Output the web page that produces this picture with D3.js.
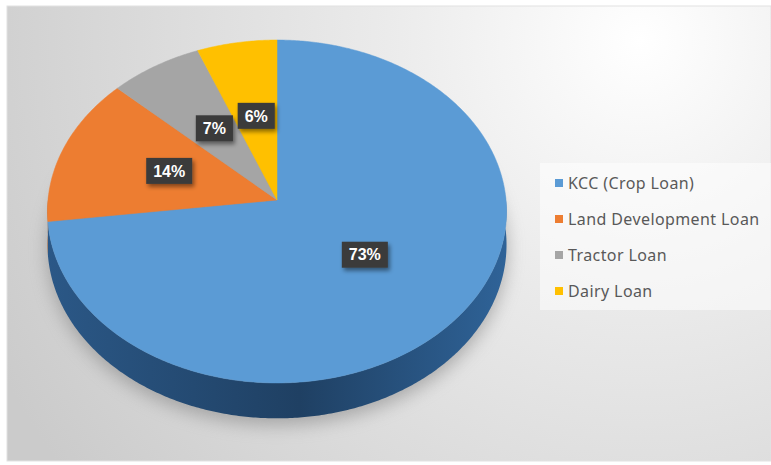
<!DOCTYPE html>
<meta charset="utf-8">
<style>
    body { margin: 0; background: #fff; }
    #chart { display: block; }
    .legend text {
        font-family: "Noto Sans", sans-serif;
        font-size: 16px;
        letter-spacing: 0.4px;
        fill: #595959;
    }
    .labels text {
        font-family: "Liberation Sans", sans-serif;
        font-size: 16px;
        font-weight: bold;
        fill: #fff;
    }
</style>
<svg id="chart" width="771" height="465"></svg>
<script src="https://d3js.org/d3.v7.min.js"></script>
<script>

    // data
    var categories = ["KCC (Crop Loan)", "Land Development Loan", "Tractor Loan", "Dairy Loan"];
    var shares = [73, 14, 7, 6];
    var pctLabels = ["73%", "14%", "7%", "6%"];
    var colors = ["#5b9bd5", "#ed7d31", "#a5a5a5", "#ffc000"];
    var sideColors = ["#2c5a89", "#a4531b", "#6e6e6e", "#b08600"];

    var svg = d3.select("#chart");

    // tilted pie projection (a bit of perspective, back is farther)
    var CX = 277, CY = 200, SX = 229, SY = 170.7, A = -0.067, DEPTH = 33;

    function proj(u, v, dz) {
        var w = 1 + A * v;
        return [CX + SX * u / w, CY + (SY * v + dz) / w];
    }
    function rim(a, dz) { return proj(Math.sin(a), -Math.cos(a), dz); }

    var defs = svg.append("defs");

    var bg = defs.append("radialGradient").attr("id", "bg")
        .attr("gradientUnits", "userSpaceOnUse")
        .attr("cx", 640).attr("cy", 40).attr("r", 720);
    bg.append("stop").attr("offset", "0").attr("stop-color", "#ffffff");
    bg.append("stop").attr("offset", "0.35").attr("stop-color", "#ebebeb");
    bg.append("stop").attr("offset", "1").attr("stop-color", "#cbcbcb");

    var sideGrad = defs.append("linearGradient").attr("id", "side")
        .attr("gradientUnits", "userSpaceOnUse")
        .attr("x1", 45).attr("x2", 507).attr("y1", 0).attr("y2", 0);
    sideGrad.append("stop").attr("offset", "0").attr("stop-color", "#2b5887");
    sideGrad.append("stop").attr("offset", "0.55").attr("stop-color", "#1f4063");
    sideGrad.append("stop").attr("offset", "1").attr("stop-color", "#2f6398");

    var blur = defs.append("filter").attr("id", "blur")
        .attr("x", "-20%").attr("y", "-20%").attr("width", "140%").attr("height", "140%");
    blur.append("feGaussianBlur").attr("stdDeviation", 9);

    var drop = defs.append("filter").attr("id", "drop")
        .attr("x", "-30%").attr("y", "-30%").attr("width", "170%").attr("height", "170%");
    drop.append("feDropShadow").attr("dx", 2).attr("dy", 3)
        .attr("stdDeviation", 2).attr("flood-color", "#000").attr("flood-opacity", 0.45);

    // background
    svg.append("rect")
        .attr("x", 7).attr("y", 6).attr("width", 764).attr("height", 455)
        .attr("fill", "url(#bg)")
        .attr("stroke", "#e2e2e2");

    var pie = d3.pie().sort(null).value(function(d) { return d; });
    var arcs = pie(shares);
    var line = d3.line();

    function sample(a0, a1) {
        var n = Math.max(2, Math.ceil((a1 - a0) / 0.01));
        return d3.range(n + 1).map(function(i) { return a0 + (a1 - a0) * i / n; });
    }

    // soft shadow under the pie
    var allAngles = sample(0, 2 * Math.PI);
    svg.append("path")
        .attr("d", line(allAngles.map(function(a) { return rim(a, DEPTH + 6); })) + "Z")
        .attr("fill", "#7a7a7a")
        .attr("opacity", 0.55)
        .attr("filter", "url(#blur)");

    // side walls (front half only)
    var frontStart = Math.PI / 2 - 0.03, frontEnd = 3 * Math.PI / 2 + 0.03;
    svg.append("g").attr("class", "sides")
        .selectAll("path")
        .data(arcs.filter(function(d) { return d.endAngle > frontStart && d.startAngle < frontEnd; }))
        .enter().append("path")
        .attr("d", function(d) {
            var a0 = Math.max(d.startAngle, frontStart), a1 = Math.min(d.endAngle, frontEnd);
            var ang = sample(a0, a1);
            var top = ang.map(function(a) { return rim(a, 0); });
            var bot = ang.slice().reverse().map(function(a) { return rim(a, DEPTH); });
            return line(top.concat(bot)) + "Z";
        })
        .attr("fill", function(d) { return d.index === 0 ? "url(#side)" : sideColors[d.index]; });

    // top face
    svg.append("g").attr("class", "slices")
        .selectAll("path")
        .data(arcs)
        .enter().append("path")
        .attr("d", function(d) {
            var pts = [proj(0, 0, 0)].concat(sample(d.startAngle, d.endAngle).map(function(a) { return rim(a, 0); }));
            return line(pts) + "Z";
        })
        .attr("fill", function(d) { return colors[d.index]; })
        .attr("stroke", function(d) { return colors[d.index]; })
        .attr("stroke-width", 0.5);

    // data labels
    var unitArc = d3.arc().innerRadius(0).outerRadius(1);
    var lab = svg.append("g").attr("class", "labels")
        .selectAll("g")
        .data(arcs)
        .enter().append("g")
        .attr("transform", function(d) {
            var c = unitArc.centroid(d);
            var p = proj(c[0], c[1], 0);
            return "translate(" + p[0] + "," + (p[1] - 3) + ")";
        });

    lab.append("text")
        .attr("text-anchor", "middle")
        .attr("dy", "0.36em")
        .text(function(d) { return pctLabels[d.index]; });

    lab.each(function() {
        var g = d3.select(this);
        var w = g.select("text").node().getComputedTextLength() + 14;
        g.insert("rect", "text")
            .attr("x", -w / 2).attr("y", -13)
            .attr("width", w).attr("height", 26)
            .attr("fill", "#3b3b3b")
            .attr("filter", "url(#drop)");
    });

    // legend
    var legend = svg.append("g").attr("class", "legend");
    legend.append("rect")
        .attr("x", 540).attr("y", 163).attr("width", 231).attr("height", 147)
        .attr("fill", "#ffffff").attr("opacity", 0.5);

    var y = d3.scalePoint().domain(categories).range([183, 291]);

    var item = legend.selectAll("g.item")
        .data(categories)
        .enter().append("g")
        .attr("class", "item")
        .attr("transform", function(d) { return "translate(555," + y(d) + ")"; });

    item.append("rect")
        .attr("x", 0).attr("y", -4).attr("width", 8).attr("height", 8)
        .attr("fill", function(d, i) { return colors[i]; });

    item.append("text")
        .attr("x", 13).attr("dy", "0.36em")
        .text(function(d) { return d; });

</script>
